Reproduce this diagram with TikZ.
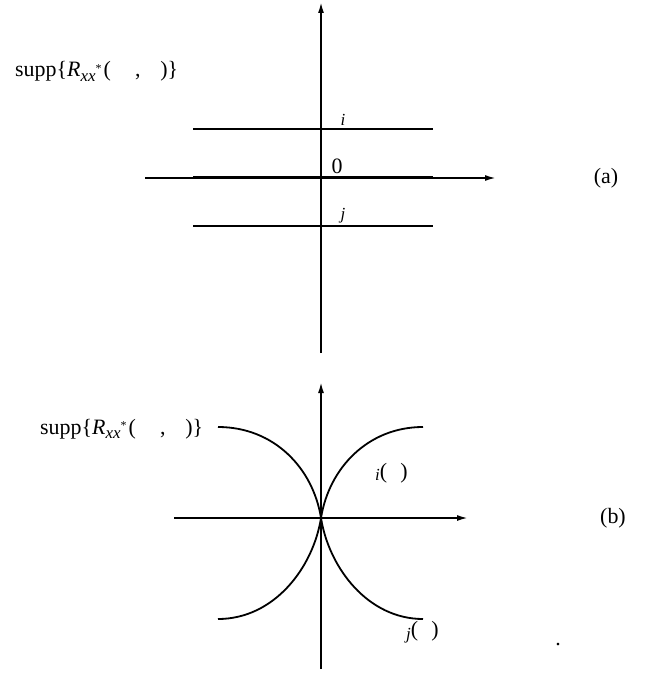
\documentclass[tikz,border=0pt]{standalone}
\usepackage{fontspec}
\setmainfont{Liberation Serif}
\usetikzlibrary{arrows.meta}
\newcommand{\bigsz}{\fontsize{22}{26}\selectfont}
\newcommand{\subsz}{\fontsize{17}{20}\selectfont}
\newcommand{\supsz}{\fontsize{12}{14}\selectfont}
\newcommand{\suppR}{supp\{\textit{R}\raisebox{-0.2em}{\subsz\textit{xx}\raisebox{0.5em}{\supsz *}}\hspace{0.1em}(\hspace{1.1em},\hspace{0.9em})\}}
\begin{document}
\begin{tikzpicture}[x=1bp,y=-1bp,
  ln/.style={line width=1.8bp,black},
  axis/.style={ln,-{Latex[length=11bp,width=6bp]}},
  lbl/.style={inner sep=0pt,font=\bigsz},
  sublbl/.style={inner sep=0pt,font=\subsz}]
\useasboundingbox (0,0) rectangle (655,682);
% ---------- (a) ----------
\coordinate (av0) at (321,353);
\coordinate (av1) at (321,2);
\coordinate (ah0) at (145,178);
\coordinate (ah1) at (496,178);
\coordinate (li0) at (193,129);
\coordinate (li1) at (433,129);
\coordinate (lz0) at (193,177);
\coordinate (lz1) at (433,177);
\coordinate (lj0) at (193,226);
\coordinate (lj1) at (433,226);
\draw[ln] (li0) -- (li1);
\draw[ln,line width=1.4bp] (lz0) -- (lz1);
\draw[ln] (lj0) -- (lj1);
\draw[axis] (ah0) -- (ah1);
\draw[axis] (av0) -- (av1);
\node[lbl,anchor=base west] (suppa) at (15,77) {\suppR};
\node[sublbl] (la_i) at (343,120) {\textit{i}};
\node[lbl] (la_0) at (337,166) {0};
\node[sublbl] (la_j) at (343,216) {\textit{j}};
\node[lbl] (tag_a) at (606,178) {(a)};
% ---------- (b) ----------
\coordinate (bv0) at (321,669);
\coordinate (bv1) at (321,382);
\coordinate (bh0) at (174,518);
\coordinate (bh1) at (468,518);
\coordinate (O) at (321,518);
\coordinate (tl) at (218,427);
\coordinate (tr) at (423,427);
\coordinate (bl) at (218,619);
\coordinate (br) at (423,619);
\draw[axis] (bh0) -- (bh1);
\draw[axis] (bv0) -- (bv1);
\draw[ln] (tl) .. controls (274,427) and (313,468) .. (O)
               .. controls (329,568) and (368,619) .. (br);
\draw[ln] (bl) .. controls (274,619) and (313,568) .. (O)
               .. controls (329,468) and (368,427) .. (tr);
\node[lbl,anchor=base west] (suppb) at (40,434) {\suppR};
\node[lbl,anchor=west] (lb_i) at (375,473) {\raisebox{-0.12em}{\subsz\textit{i}}(\hspace{0.6em})};
\node[lbl,anchor=west] (lb_j) at (406,632) {\raisebox{-0.12em}{\subsz\textit{j}}(\hspace{0.6em})};
\node[lbl] (tag_b) at (613,518) {(b)};
\node[lbl,anchor=base] (dot) at (558,645) {.};
\end{tikzpicture}
\end{document}
